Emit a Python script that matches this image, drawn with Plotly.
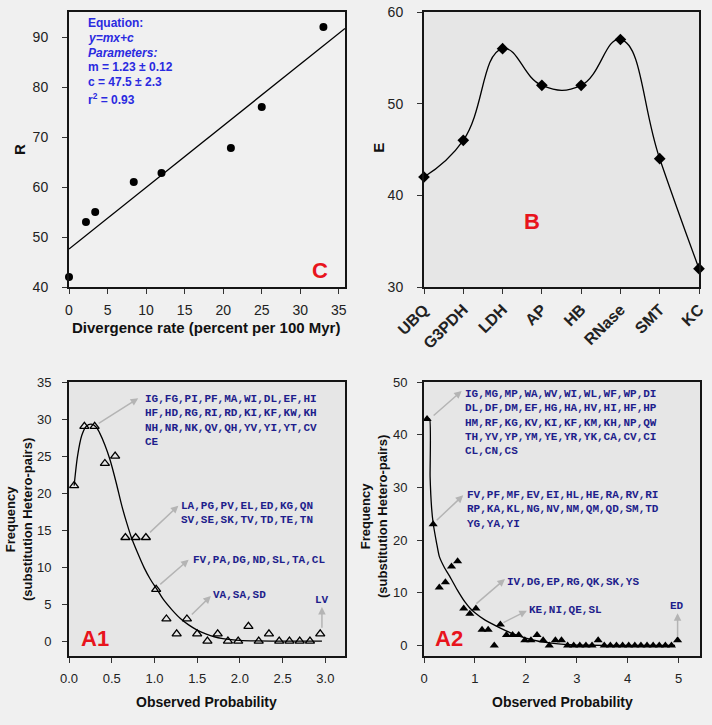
import plotly.graph_objects as go

# ---------------- Data ----------------
# Panel C: R vs divergence rate
c_x = [0, 2.2, 3.4, 8.4, 12, 21, 25, 33]
c_y = [42, 53, 55, 61, 62.8, 67.8, 76, 92]
c_fit_x = [0, 35.8]
c_fit_y = [47.6, 91.7]
c_eq_lines = ["<b>Equation:</b>", "<b><i>y=mx+c</i></b>", "<b><i>Parameters:</i></b>",
              "<b>m = 1.23 \u00b1 0.12</b>", "<b>c = 47.5 \u00b1 2.3</b>", "<b>r<sup>2</sup> = 0.93</b>"]

# Panel B: E per protein
b_cats = ["UBQ", "G3PDH", "LDH", "AP", "HB", "RNase", "SMT", "KC"]
b_vals = [42, 46, 56, 52, 52, 57, 44, 32]

# Panel A1
a1_x = [0.06, 0.18, 0.30, 0.42, 0.54, 0.66, 0.78, 0.90, 1.02, 1.14, 1.26, 1.38, 1.50,
        1.62, 1.74, 1.86, 1.98, 2.10, 2.22, 2.34, 2.46, 2.58, 2.70, 2.82, 2.94]
a1_y = [21, 29, 29, 24, 25, 14, 14, 14, 7, 3, 1, 3, 1, 0, 1, 0, 0, 2, 0, 1, 0, 0, 0, 0, 1]
a1_fit_x = [0.06, 0.10, 0.15, 0.20, 0.26, 0.32, 0.36, 0.42, 0.48, 0.55, 0.62, 0.68, 0.73,
            0.80, 0.88, 0.95, 1.03, 1.10, 1.20, 1.30, 1.40, 1.50, 1.60, 1.70, 1.80, 1.90,
            2.00, 2.20, 2.50, 2.96]
a1_fit_y = [21.0, 25.0, 27.8, 29.0, 29.3, 28.9, 28.1, 26.5, 24.5, 21.5, 18.2, 15.8, 14.0,
            12.0, 9.9, 8.4, 7.0, 5.7, 4.3, 3.1, 2.2, 1.5, 1.0, 0.6, 0.35, 0.2, 0.1, 0.03,
            0.0, 0.0]
a1_labels = [
    "IG,FG,PI,PF,MA,WI,DL,EF,HI<br>HF,HD,RG,RI,RD,KI,KF,KW,KH<br>NH,NR,NK,QV,QH,YV,YI,YT,CV<br>CE",
    "LA,PG,PV,EL,ED,KG,QN<br>SV,SE,SK,TV,TD,TE,TN",
    "FV,PA,DG,ND,SL,TA,CL",
    "VA,SA,SD",
    "LV",
]

# Panel A2
a2_x = [0.06, 0.18, 0.30, 0.42, 0.54, 0.66, 0.78, 0.90, 1.02, 1.14, 1.26, 1.38, 1.50,
        1.62, 1.74, 1.86, 1.98, 2.10, 2.22, 2.34, 2.46, 2.58, 2.70, 2.82, 2.94, 3.06,
        3.18, 3.30, 3.42, 3.54, 3.66, 3.78, 3.90, 4.02, 4.14, 4.26, 4.38, 4.50, 4.62,
        4.74, 4.86, 4.98]
a2_y = [43, 23, 11, 12, 15, 16, 7, 6, 7, 3, 3, 0, 4, 2, 2, 2, 1, 1, 2, 1, 0, 1, 1, 0,
        0, 0, 0, 0, 1, 0, 0, 0, 0, 0, 0, 0, 0, 0, 0, 0, 0, 1]
a2_fit_x = [0.06, 0.11, 0.12, 0.15, 0.18, 0.25, 0.30, 0.40, 0.50, 0.65, 0.80, 0.90, 1.00,
            1.20, 1.50, 1.75, 2.00, 2.25, 2.50, 2.75, 3.00, 3.50, 4.00, 4.93]
a2_fit_y = [43.0, 43.0, 32.0, 26.0, 23.2, 19.3, 16.9, 14.8, 13.2, 10.6, 8.3, 7.1, 6.2,
            4.8, 3.3, 2.2, 1.4, 0.8, 0.45, 0.2, 0.08, 0.02, 0.0, 0.0]
a2_labels = [
    "IG,MG,MP,WA,WV,WI,WL,WF,WP,DI<br>DL,DF,DM,EF,HG,HA,HV,HI,HF,HP<br>HM,RF,KG,KV,KI,KF,KM,KH,NP,QW<br>TH,YV,YP,YM,YE,YR,YK,CA,CV,CI<br>CL,CN,CS",
    "FV,PF,MF,EV,EI,HL,HE,RA,RV,RI<br>RP,KA,KL,NG,NV,NM,QM,QD,SM,TD<br>YG,YA,YI",
    "IV,DG,EP,RG,QK,SK,YS",
    "KE,NI,QE,SL",
    "ED",
]

# ---------------- Figure ----------------
W, H = 712, 725
FONT = "Liberation Sans"
MONO = "Liberation Mono"
PAPER = "#f0f0f0"
PANEL = "#e6e6e6"
LABEL_BLUE = "#1e1e8c"
RED = "#e8141c"

def px_x(a, b):
    return [a / W, b / W]

def px_y(top, bottom):
    return [1 - bottom / H, 1 - top / H]

fig = go.Figure()

# Panel C
fig.add_trace(go.Scatter(x=c_fit_x, y=c_fit_y, mode="lines", line=dict(color="black", width=1.3),
                         xaxis="x", yaxis="y", hoverinfo="skip"))
fig.add_trace(go.Scatter(x=c_x, y=c_y, mode="markers", marker=dict(color="black", size=8),
                         xaxis="x", yaxis="y", cliponaxis=False))
# Panel B
fig.add_trace(go.Scatter(x=b_cats, y=b_vals, mode="lines+markers",
                         line=dict(color="black", width=1.3, shape="spline", smoothing=1.3),
                         marker=dict(symbol="diamond", color="black", size=9),
                         xaxis="x2", yaxis="y2", cliponaxis=False))
# Panel A1
fig.add_trace(go.Scatter(x=a1_fit_x, y=a1_fit_y, mode="lines",
                         line=dict(color="black", width=1.3, shape="spline", smoothing=0.8),
                         xaxis="x3", yaxis="y3"))
fig.add_trace(go.Scatter(x=a1_x, y=a1_y, mode="markers",
                         marker=dict(symbol="triangle-up-open", color="black", size=8,
                                     line=dict(width=1.3, color="black")),
                         xaxis="x3", yaxis="y3"))
# Panel A2
fig.add_trace(go.Scatter(x=a2_fit_x, y=a2_fit_y, mode="lines",
                         line=dict(color="black", width=1.3, shape="spline", smoothing=0.5),
                         xaxis="x4", yaxis="y4"))
fig.add_trace(go.Scatter(x=a2_x, y=a2_y, mode="markers",
                         marker=dict(symbol="triangle-up", color="black", size=8),
                         xaxis="x4", yaxis="y4"))

axis_common = dict(showline=True, linecolor="#151515", linewidth=2, mirror=True,
                   ticks="outside", ticklen=5, tickwidth=1, tickcolor="#333",
                   showgrid=False, zeroline=False, automargin=False,
                   tickfont=dict(family=FONT, size=14, color="#222"))

def ax(**kw):
    d = dict(axis_common)
    d.update(kw)
    return d

layout = dict(
    width=W, height=H, showlegend=False,
    paper_bgcolor=PAPER, plot_bgcolor=PAPER,
    margin=dict(l=0, r=0, t=0, b=0, pad=0, autoexpand=False),
    font=dict(family=FONT, color="#222"),
    xaxis=ax(domain=px_x(69, 345), anchor="y", range=[0, 35.8], dtick=5, tick0=0,
             ticklabelstandoff=4),
    yaxis=ax(domain=px_y(12, 287), anchor="x", range=[40, 95], tickvals=[40, 50, 60, 70, 80, 90],
             ticklabelstandoff=11),
    xaxis2=ax(domain=px_x(424, 699), anchor="y2", type="category", range=[0, 7],
              tickangle=-45, tickfont=dict(family=FONT, size=16, color="#222", weight="bold")),
    yaxis2=ax(domain=px_y(12, 287), anchor="x2", range=[30, 60], dtick=10, ticklabelstandoff=11),
    xaxis3=ax(domain=px_x(69, 345), anchor="y3", range=[0, 3.23], dtick=0.5, tick0=0,
              tickformat=".1f", tickfont=dict(family=FONT, size=13, color="#222"),
              ticklabelstandoff=4),
    yaxis3=ax(domain=px_y(382, 656), anchor="x3", range=[-2, 35], dtick=5, tick0=0,
              tickfont=dict(family=FONT, size=13, color="#222"), ticklabelstandoff=8),
    xaxis4=ax(domain=px_x(424, 700), anchor="y4", range=[0, 5.42], dtick=1, tick0=0,
              tickfont=dict(family=FONT, size=13, color="#222"), ticklabelstandoff=4),
    yaxis4=ax(domain=px_y(382, 656), anchor="x4", range=[-2, 50], dtick=10, tick0=0,
              tickfont=dict(family=FONT, size=13, color="#222"), ticklabelstandoff=7),
)
fig.update_layout(**layout)

# darker panel backgrounds
for n in ["2", "3", "4"]:
    fig.add_shape(type="rect", xref=f"x{n} domain", yref=f"y{n} domain", x0=0, x1=1, y0=0, y1=1,
                  fillcolor=PANEL, line=dict(width=0), layer="below")

ann = []
# axis titles
def title(text, x, y, size, angle=0):
    ann.append(dict(text=f"<b>{text}</b>", x=x / W, y=1 - y / H, xref="paper", yref="paper",
                    showarrow=False, textangle=angle, xanchor="center", yanchor="middle",
                    font=dict(family=FONT, size=size, color="#111")))

title("Divergence rate (percent per 100 Myr)", 206, 327, 15)
title("R", 20, 150, 15, -90)
title("E", 377.7, 148, 15, -90)
title("Frequency<br>(substitution Hetero-pairs)", 19, 520, 13, -90)
title("Observed Probability", 206, 702, 14)
title("Frequency<br>(substitution Hetero-pairs)", 374, 517, 13, -90)
title("Observed Probability", 562, 702, 14)

# equation text in C
for i, line in enumerate(c_eq_lines):
    yv = 92.74 - 2.92 * i - (0.6 if i == 5 else 0)
    ann.append(dict(text=line, x=2.2, y=yv, xref="x", yref="y", showarrow=False,
                    xanchor="left", yanchor="middle",
                    font=dict(family=FONT, size=12, color="#2a2ae0")))

# panel letters
def letter(text, x, y, xr, yr):
    ann.append(dict(text=f"<b>{text}</b>", x=x, y=y, xref=xr, yref=yr, showarrow=False,
                    xanchor="center", yanchor="middle", font=dict(family=FONT, size=22, color=RED)))

letter("C", 32.5, 43.3, "x", "y")
letter("B", 2.74, 37.1, "x2", "y2")
letter("A1", 0.30, 0.4, "x3", "y3")
letter("A2", 0.49, 1.4, "x4", "y4")

# labels and arrows
def label(text, x, y, xr, yr, anchor="left", yanchor="top"):
    ann.append(dict(text=f"<b>{text}</b>", x=x, y=y, xref=xr, yref=yr, showarrow=False,
                    xanchor=anchor, yanchor=yanchor, align="left",
                    font=dict(family=MONO, size=11, color=LABEL_BLUE)))

def arrow(tx, ty, hx, hy, xr, yr):
    ann.append(dict(text="", x=hx, y=hy, ax=tx, ay=ty, xref=xr, yref=yr, axref=xr, ayref=yr,
                    showarrow=True, arrowhead=2, arrowsize=1, arrowwidth=1.5,
                    arrowcolor="#b4b4b4", standoff=0, startstandoff=0))

label(a1_labels[0], 0.87, 33.74, "x3", "y3")
label(a1_labels[1], 1.29, 19.36, "x3", "y3")
label(a1_labels[2], 1.43, 10.95, "x3", "y3", yanchor="middle")
label(a1_labels[3], 1.66, 6.18, "x3", "y3", yanchor="middle")
label(a1_labels[4], 2.96, 5.54, "x3", "y3", anchor="center", yanchor="middle")
arrow(0.33, 29.3, 0.81, 32.8, "x3", "y3")
arrow(0.93, 14.5, 1.28, 18.3, "x3", "y3")
arrow(1.05, 7.5, 1.40, 11.0, "x3", "y3")
arrow(1.42, 3.4, 1.66, 6.1, "x3", "y3")
arrow(2.96, 1.6, 2.96, 4.6, "x3", "y3")

label(a2_labels[0], 0.76, 49.3, "x4", "y4")
label(a2_labels[1], 0.81, 30.1, "x4", "y4")
label(a2_labels[2], 1.60, 12.12, "x4", "y4", yanchor="middle")
label(a2_labels[3], 2.03, 6.76, "x4", "y4", yanchor="middle")
label(a2_labels[4], 4.96, 7.52, "x4", "y4", anchor="center", yanchor="middle")
arrow(0.16, 43.4, 0.74, 48.3, "x4", "y4")
arrow(0.22, 23.5, 0.77, 28.5, "x4", "y4")
arrow(1.0, 7.7, 1.59, 12.6, "x4", "y4")
arrow(1.53, 4.2, 2.02, 6.6, "x4", "y4")
arrow(4.98, 1.4, 4.98, 6.1, "x4", "y4")

fig.update_layout(annotations=ann)
fig.write_html("out.html", config={"displayModeBar": False},
               post_script="document.body.style.margin='0px';document.body.style.overflow='hidden';")
